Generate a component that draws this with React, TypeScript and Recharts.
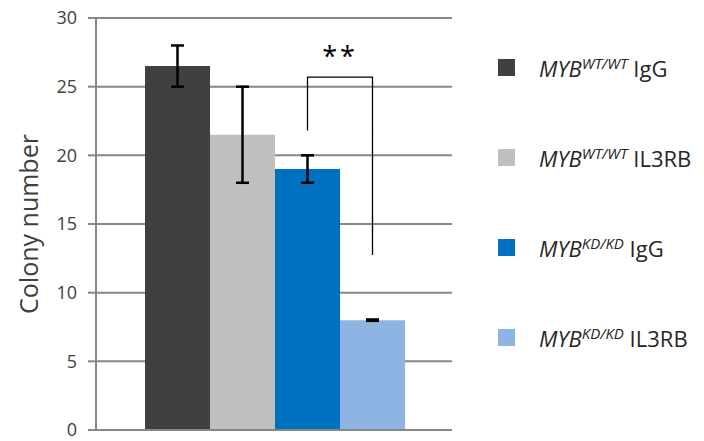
import React from "react"
import {
  BarChart,
  Bar,
  XAxis,
  YAxis,
  CartesianGrid,
  ErrorBar,
  Legend,
} from "recharts"

// colony counts per condition, with symmetric error (SD)
const seriesKeys = ["wtIgG", "wtIl3rb", "kdIgG", "kdIl3rb"]
const genotypes = ["WT/WT", "WT/WT", "KD/KD", "KD/KD"]
const treatments = ["IgG", "IL3RB", "IgG", "IL3RB"]
const colonyMeans = [26.5, 21.5, 19, 8]
const colonyErrors = [1.5, 3.5, 1, 0.05]
const barColors = ["#404040", "#bfbfbf", "#0070c0", "#8eb4e3"]
const yTicks = [0, 5, 10, 15, 20, 25, 30]

// significance bracket between KD IgG and KD IL3RB
const bracketLeftEnd = 21.8
const bracketTop = 25.7
const bracketRightEnd = 12.75
const bracketText = "**"

const row: Record<string, number | string> = { group: "colonies" }
seriesKeys.forEach((key, i) => {
  row[key] = colonyMeans[i]
  row[`${key}Err`] = colonyErrors[i]
})
const data = [row]

const FONT = "'Open Sans', sans-serif"
const AXIS_GRAY = "#878787"

function SignificanceBracket(props: any) {
  const { x, y, width, height, value } = props
  if (!height || !value) return null
  // pixels per colony, taken from the bar's own geometry
  const ppu = height / value
  const base = y + height
  const toY = (v: number) => base - v * ppu
  const x1 = x + width / 2
  const x2 = x + width * 1.5
  const top = toY(bracketTop)
  return (
    <g>
      <path
        d={`M${x1},${toY(bracketLeftEnd)} V${top} H${x2} V${toY(bracketRightEnd)}`}
        fill="none"
        stroke="#000"
        strokeWidth={1.3}
      />
      <text
        x={(x1 + x2) / 2}
        y={top - 11}
        textAnchor="middle"
        fontFamily={FONT}
        fontSize={27}
        letterSpacing={3}
        fill="#000"
      >
        {bracketText}
      </text>
    </g>
  )
}

function LegendRows() {
  return (
    <div style={{ fontFamily: FONT, color: "#262626" }}>
      {seriesKeys.map((key, i) => (
        <div
          key={key}
          style={{ display: "flex", alignItems: "center", height: 90 }}
        >
          <span
            style={{
              width: 17,
              height: 17,
              background: barColors[i],
              marginRight: 24,
              flexShrink: 0,
            }}
          />
          <span style={{ fontSize: 22, whiteSpace: "nowrap", lineHeight: 1 }}>
            <i>MYB</i>
            <sup style={{ fontSize: 15, fontStyle: "italic", verticalAlign: 8 }}>
              {genotypes[i]}
            </sup>{" "}
            {treatments[i]}
          </span>
        </div>
      ))}
    </div>
  )
}

export default function App() {
  return (
    <div style={{ position: "absolute", left: 0, top: 0, background: "#fff" }}>
      <BarChart
        width={704}
        height={441}
        data={data}
        margin={{ top: 18, right: 252, bottom: 0, left: 0 }}
        barCategoryGap={49}
        barGap={0}
      >
        <CartesianGrid
          vertical={false}
          stroke={AXIS_GRAY}
          strokeWidth={2}
        />
        <XAxis
          dataKey="group"
          tick={false}
          tickLine={false}
          height={11}
          axisLine={{ stroke: AXIS_GRAY, strokeWidth: 2 }}
        />
        <YAxis
          width={96}
          domain={[0, 30]}
          ticks={yTicks}
          interval={0}
          tickSize={8}
          tickMargin={11}
          axisLine={{ stroke: AXIS_GRAY, strokeWidth: 2 }}
          tickLine={{ stroke: AXIS_GRAY, strokeWidth: 2 }}
          tick={{ fill: "#404040", fontSize: 18, fontFamily: FONT }}
          label={{
            value: "Colony number",
            angle: -90,
            position: "center",
            dx: -19,
            style: { fill: "#404040", fontSize: 25, fontFamily: FONT },
          }}
        />
        {seriesKeys.map((key, i) => (
          <Bar
            key={key}
            dataKey={key}
            fill={barColors[i]}
            isAnimationActive={false}
            label={i === 2 ? <SignificanceBracket /> : undefined}
          >
            <ErrorBar
              dataKey={`${key}Err`}
              direction="y"
              width={6.5}
              stroke="#000"
              strokeWidth={2.5}
            />
          </Bar>
        ))}
        <Legend
          layout="vertical"
          align="center"
          verticalAlign="middle"
          wrapperStyle={{ left: 498, top: 22, width: 206 }}
          content={<LegendRows />}
        />
      </BarChart>
    </div>
  )
}
